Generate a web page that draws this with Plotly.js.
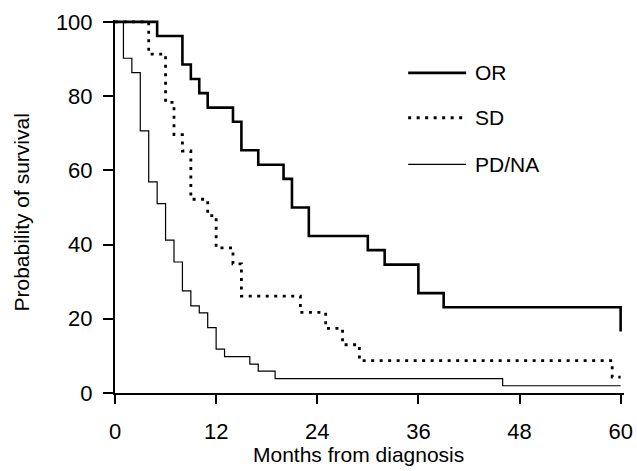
<!DOCTYPE html>
<html>
<head>
<meta charset="utf-8">
<script src="https://cdn.plot.ly/plotly-3.0.1.min.js"></script>
<style>html,body{margin:0;padding:0;background:#fff;}#chart{width:637px;height:471px;}</style>
</head>
<body>
<div id="chart"></div>
<script>
// Kaplan-Meier step data (months, % surviving)
var orMonths  = [0, 5, 8, 9, 10, 11, 14, 15, 17, 20, 21, 23, 30, 32, 36, 39, 60];
var orSurv    = [100, 96.2, 88.5, 84.6, 80.8, 76.9, 73.1, 65.4, 61.5, 57.7, 50.0, 42.3, 38.5, 34.6, 26.9, 23.1, 16.6];
var sdMonths  = [0, 4, 6, 7, 8, 9, 11, 12, 14, 15, 22, 25, 27, 29, 59, 60];
var sdSurv    = [100, 91.3, 78.3, 69.6, 65.2, 52.2, 47.8, 39.1, 34.8, 26.1, 21.7, 17.4, 13.0, 8.7, 4.3, 4.3];
var pdMonths  = [0, 1, 2, 3, 4, 5, 6, 7, 8, 9, 10, 11, 12, 13, 16, 17, 19, 46, 60];
var pdSurv    = [100, 90.2, 86.3, 70.6, 56.9, 51.0, 41.2, 35.3, 27.5, 23.5, 21.6, 17.6, 11.8, 9.8, 7.8, 5.9, 3.9, 1.96, 1.96];
var xTicks    = [0, 12, 24, 36, 48, 60];
var yTicks    = [0, 20, 40, 60, 80, 100];
var seriesNames = ['OR', 'SD', 'PD/NA'];

// plot-area geometry (pixels)
var L = 114.5, B = 77.7, T = 19.8, R = 12.9;
var W = 637 - L - R, H = 471 - T - B;
function px(x) { return (x - L) / W; }
function py(y) { return (471 - B - y) / H; }

var FONT = 'Liberation Sans, Arial, Helvetica, sans-serif';

var traces = [
  {x: orMonths, y: orSurv, name: seriesNames[0], mode: 'lines', line: {shape: 'hv', color: '#000', width: 2.6}},
  {x: sdMonths, y: sdSurv, name: seriesNames[1], mode: 'lines', line: {shape: 'hv', color: '#000', width: 2.8, dash: '3px,5.5px'}},
  {x: pdMonths, y: pdSurv, name: seriesNames[2], mode: 'lines', line: {shape: 'hv', color: '#000', width: 1.2}}
];

var legendY = [72.7, 117.7, 164.3];
var legendStyles = [
  {color: '#000', width: 2.6},
  {color: '#000', width: 2.8, dash: '3px,5.5px'},
  {color: '#000', width: 1.2}
];
var shapes = [], annotations = [];
for (var i = 0; i < 3; i++) {
  shapes.push({type: 'line', xref: 'paper', yref: 'paper', x0: px(408), x1: px(466), y0: py(legendY[i]), y1: py(legendY[i]), line: legendStyles[i]});
  annotations.push({xref: 'paper', yref: 'paper', x: px(473), y: py(legendY[i]), xanchor: 'left', yanchor: 'middle', showarrow: false, text: seriesNames[i], font: {family: FONT, size: 21, color: '#000'}});
}
annotations.push({xref: 'paper', yref: 'paper', x: px(358), y: py(455), xanchor: 'center', yanchor: 'middle', showarrow: false, text: 'Months from diagnosis', font: {family: FONT, size: 21, color: '#000'}});
annotations.push({xref: 'paper', yref: 'paper', x: px(21), y: py(213), xanchor: 'center', yanchor: 'middle', textangle: -90, showarrow: false, text: 'Probability of survival', font: {family: FONT, size: 21, color: '#000'}});

var layout = {
  width: 637, height: 471,
  margin: {l: L, r: R, t: T, b: B, pad: 0},
  paper_bgcolor: '#fff', plot_bgcolor: '#fff',
  showlegend: false,
  font: {family: FONT, size: 21, color: '#000'},
  xaxis: {range: [0, 60.4], tickvals: xTicks, ticktext: xTicks.map(String), ticks: 'outside', ticklen: 9, tickwidth: 2, tickcolor: '#000',
          ticklabelstandoff: 9,
          showline: true, linewidth: 2, linecolor: '#000', showgrid: false, zeroline: false, fixedrange: true,
          tickfont: {family: FONT, size: 22, color: '#000'}},
  yaxis: {range: [0, 100.5], tickvals: yTicks, ticktext: yTicks.map(String), ticks: 'outside', ticklen: 10, tickwidth: 2, tickcolor: '#000',
          ticklabelstandoff: 6,
          showline: true, linewidth: 2, linecolor: '#000', showgrid: false, zeroline: false, fixedrange: true,
          tickfont: {family: FONT, size: 22, color: '#000'}},
  shapes: shapes,
  annotations: annotations
};

Plotly.newPlot('chart', traces, layout, {displayModeBar: false, staticPlot: true});
</script>
</body>
</html>
